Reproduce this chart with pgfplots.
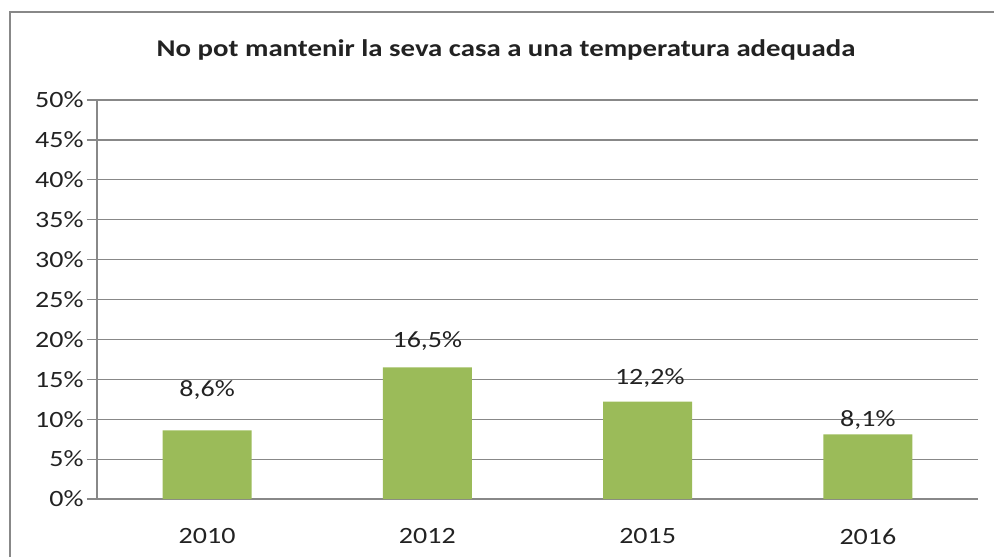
\documentclass[border=0pt]{standalone}
\usepackage{pgfplots}
\pgfplotsset{compat=1.18}
\usepackage{fontspec}
\setmainfont[FakeStretch=1.2]{Carlito}
\definecolor{bargreen}{HTML}{9BBB59}
\definecolor{gridgray}{HTML}{888888}
\definecolor{txt}{HTML}{222222}
\begin{document}
\begin{tikzpicture}
% 1px of the reference = 0.75pt
\useasboundingbox (0,0) rectangle (745.5pt,417.75pt);
\draw[gridgray, line width=0.9pt] (7.5pt,0) -- (7.5pt,408.75pt) -- (745.5pt,408.75pt);
\node[txt, font=\bfseries\fontsize{18}{21}\selectfont] at (379.5pt,380.25pt)
  {No pot mantenir la seva casa a una temperatura adequada};
\begin{axis}[
    at={(72.75pt,43.5pt)}, anchor=south west,
    scale only axis, width=660.75pt, height=299.25pt,
    xmin=-0.5, xmax=3.5, ymin=0, ymax=50,
    xtick=data, xticklabels={2010,2012,2015,2016},
    ytick={0,5,...,50},
    yticklabels={0\%,5\%,10\%,15\%,20\%,25\%,30\%,35\%,40\%,45\%,50\%},
    axis x line*=bottom, axis y line*=left,
    axis line style={gridgray, line width=0.9pt},
    ymajorgrids, major grid style={gridgray, line width=0.9pt},
    tick align=outside, major tick length=7.5pt,
    ytick style={gridgray, line width=0.9pt},
    xtick style={draw=none},
    ticklabel style={txt, font=\fontsize{17.5}{20}\selectfont},
    xticklabel style={yshift=-11pt},
    yticklabel style={xshift=1pt},
    ybar, bar width=66.75pt,
]
\addplot[fill=bargreen, draw=none] coordinates {(0,8.6) (1,16.5) (2,12.2) (3,8.1)};
\node[txt, font=\fontsize{17.5}{20}\selectfont] at (axis cs:0,13.6) {8,6\%};
\node[txt, font=\fontsize{17.5}{20}\selectfont] at (axis cs:1,19.8) {16,5\%};
\node[txt, font=\fontsize{17.5}{20}\selectfont] at (axis cs:2.01,15.1) {12,2\%};
\node[txt, font=\fontsize{17.5}{20}\selectfont] at (axis cs:3,9.9) {8,1\%};
\end{axis}
\end{tikzpicture}
\end{document}
